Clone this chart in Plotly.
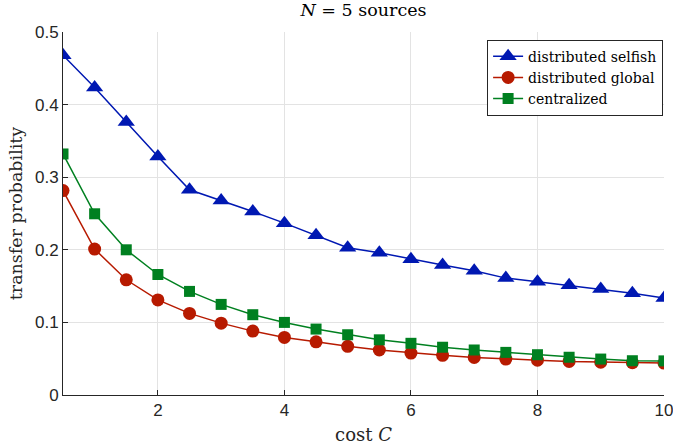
import plotly.graph_objects as go

cost = [0.5, 1, 1.5, 2, 2.5, 3, 3.5, 4, 4.5, 5, 5.5, 6, 6.5, 7, 7.5, 8, 8.5, 9, 9.5, 10]
selfish = [0.468, 0.4235, 0.376, 0.3285, 0.2826, 0.268, 0.2527, 0.2367, 0.220, 0.2028, 0.196,
           0.187, 0.179, 0.171, 0.161, 0.156, 0.151, 0.146, 0.140, 0.1336]
global_ = [0.2816, 0.201, 0.1587, 0.131, 0.1124, 0.099, 0.088, 0.0793, 0.0733, 0.0670, 0.0620,
           0.0578, 0.0546, 0.0518, 0.0495, 0.0480, 0.0462, 0.0452, 0.0445, 0.0440]
central = [0.332, 0.2496, 0.200, 0.166, 0.1427, 0.1248, 0.1106, 0.100, 0.0908, 0.083, 0.0760,
           0.0712, 0.0658, 0.0620, 0.0587, 0.0555, 0.0520, 0.0495, 0.0472, 0.0470]

x_ticks = [2, 4, 6, 8, 10]
y_ticks = [0, 0.1, 0.2, 0.3, 0.4, 0.5]
y_ticklabels = ["0", "0.1", "0.2", "0.3", "0.4", "0.5"]

blue = "rgb(0,24,178)"
red = "rgb(183,26,0)"
green = "rgb(0,128,32)"
serif = "DejaVu Serif"
sans = "Liberation Sans"
axis_col = "#262626"

fig = go.Figure()
fig.add_trace(go.Scatter(x=cost, y=selfish, mode="lines+markers", name="distributed selfish",
                         line=dict(color=blue, width=1.5),
                         marker=dict(symbol="triangle-up", size=15, color=blue)))
fig.add_trace(go.Scatter(x=cost, y=global_, mode="lines+markers", name="distributed global",
                         line=dict(color=red, width=1.5),
                         marker=dict(symbol="circle", size=13, color=red)))
fig.add_trace(go.Scatter(x=cost, y=central, mode="lines+markers", name="centralized",
                         line=dict(color=green, width=1.5),
                         marker=dict(symbol="square", size=11, color=green)))

fig.update_layout(
    width=673, height=447,
    margin=dict(l=63, r=9, t=32, b=52, autoexpand=False),
    paper_bgcolor="white", plot_bgcolor="white",
    title=dict(text="<i>N</i> = 5 sources", x=0.5, xref="paper", y=1, yref="container",
               yanchor="top", pad=dict(t=4), automargin=False,
               font=dict(family=serif, size=17.5, color="black")),
    xaxis=dict(range=[0.5, 10], tickvals=x_ticks, ticks="inside", ticklen=5, tickcolor=axis_col,
               showline=True, linecolor=axis_col, linewidth=1, mirror=False,
               showgrid=True, gridcolor="#e3e3e3", gridwidth=1, zeroline=False,
               ticklabeloverflow="allow", automargin=False,
               tickfont=dict(family=sans, size=17, color=axis_col),
               title=dict(text="cost <i>C</i>", standoff=8,
                          font=dict(family=serif, size=18, color=axis_col))),
    yaxis=dict(range=[0, 0.5], tickvals=y_ticks, ticktext=y_ticklabels, ticks="inside", ticklen=5,
               tickcolor=axis_col, showline=True, linecolor=axis_col, linewidth=1, mirror=False,
               showgrid=True, gridcolor="#e3e3e3", gridwidth=1, zeroline=False,
               automargin=False,
               tickfont=dict(family=sans, size=17, color=axis_col),
               title=dict(text="transfer probability", standoff=7,
                          font=dict(family=serif, size=17.5, color=axis_col))),
    legend=dict(x=0.9985, xanchor="right", y=0.979, yanchor="top",
                bgcolor="white", bordercolor=axis_col, borderwidth=1,
                font=dict(family=serif, size=14, color="black"),
                tracegroupgap=0, itemwidth=30),
    showlegend=True,
)

fig.write_html("out.html", config={"displayModeBar": False},
               post_script="document.body.style.margin='0';")
